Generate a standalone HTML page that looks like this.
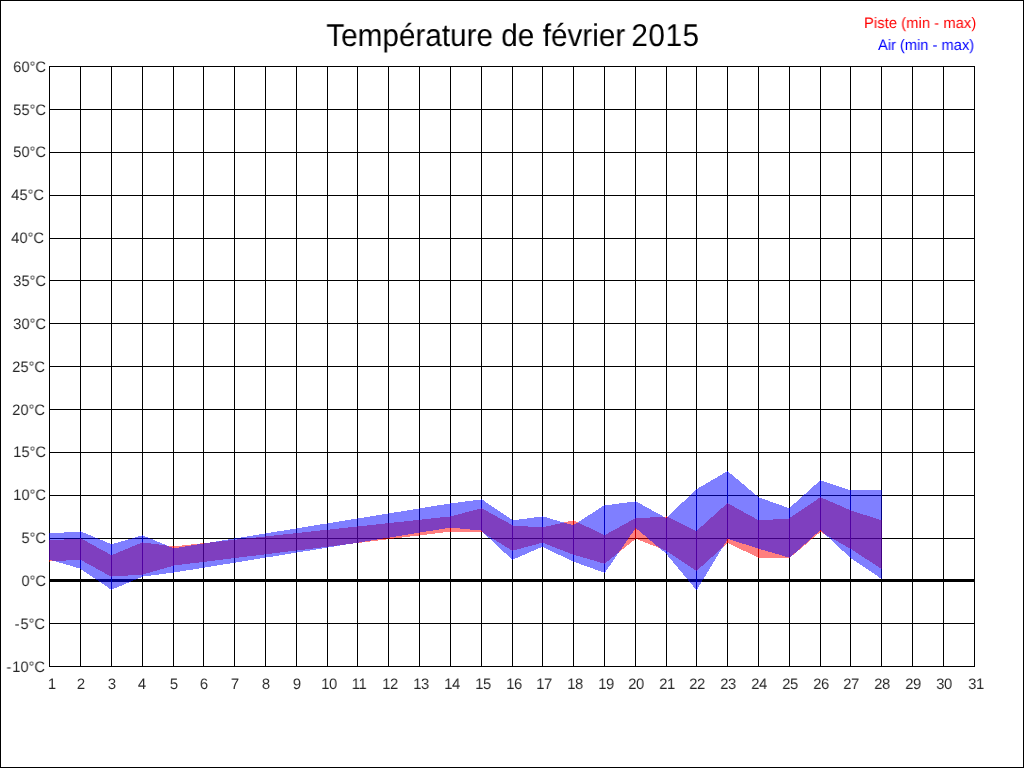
<!DOCTYPE html>
<html lang="fr"><head><meta charset="utf-8"><title>Température de février 2015</title>
<style>
html,body{margin:0;padding:0;background:#fff;}
body{width:1024px;height:768px;position:relative;overflow:hidden;font-family:"Liberation Sans",sans-serif;color:#000;}
#frame{position:absolute;left:0;top:0;width:1022px;height:766px;border:1px solid #000;}
.t{position:absolute;white-space:nowrap;line-height:1;text-rendering:geometricPrecision;will-change:transform;}
.yl{color:rgba(0,0,0,0.85);font-size:15.2px;text-align:right;width:60px;transform:scaleX(0.965);transform-origin:100% 0;}
.xl{color:rgba(0,0,0,0.85);font-size:15.2px;text-align:center;width:40px;transform:scaleX(0.965);transform-origin:50% 0;}
#title{font-size:31.5px;left:0;width:1026px;text-align:center;top:19.8px;transform:scaleX(0.943);transform-origin:513px 0;}
.lg{font-size:15.2px;transform:scaleX(0.965);transform-origin:0 0;}
</style></head><body>
<div id="frame"></div>
<svg width="1024" height="768" viewBox="0 0 1024 768" shape-rendering="crispEdges" style="position:absolute;left:0;top:0">
<g fill="#000"><rect x="49" y="66" width="1" height="601"/><rect x="80" y="66" width="1" height="601"/><rect x="111" y="66" width="1" height="601"/><rect x="142" y="66" width="1" height="601"/><rect x="173" y="66" width="1" height="601"/><rect x="203" y="66" width="1" height="601"/><rect x="234" y="66" width="1" height="601"/><rect x="265" y="66" width="1" height="601"/><rect x="296" y="66" width="1" height="601"/><rect x="327" y="66" width="1" height="601"/><rect x="357" y="66" width="1" height="601"/><rect x="388" y="66" width="1" height="601"/><rect x="419" y="66" width="1" height="601"/><rect x="450" y="66" width="1" height="601"/><rect x="481" y="66" width="1" height="601"/><rect x="512" y="66" width="1" height="601"/><rect x="542" y="66" width="1" height="601"/><rect x="573" y="66" width="1" height="601"/><rect x="604" y="66" width="1" height="601"/><rect x="635" y="66" width="1" height="601"/><rect x="666" y="66" width="1" height="601"/><rect x="696" y="66" width="1" height="601"/><rect x="727" y="66" width="1" height="601"/><rect x="758" y="66" width="1" height="601"/><rect x="789" y="66" width="1" height="601"/><rect x="820" y="66" width="1" height="601"/><rect x="850" y="66" width="1" height="601"/><rect x="881" y="66" width="1" height="601"/><rect x="912" y="66" width="1" height="601"/><rect x="943" y="66" width="1" height="601"/><rect x="974" y="66" width="1" height="601"/><rect x="49" y="66" width="926" height="1"/><rect x="49" y="109" width="926" height="1"/><rect x="49" y="152" width="926" height="1"/><rect x="49" y="195" width="926" height="1"/><rect x="49" y="238" width="926" height="1"/><rect x="49" y="280" width="926" height="1"/><rect x="49" y="323" width="926" height="1"/><rect x="49" y="366" width="926" height="1"/><rect x="49" y="409" width="926" height="1"/><rect x="49" y="452" width="926" height="1"/><rect x="49" y="495" width="926" height="1"/><rect x="49" y="538" width="926" height="1"/><rect x="49" y="623" width="926" height="1"/><rect x="49" y="666" width="926" height="1"/><rect x="49" y="579" width="926" height="3"/></g>
<path d="M49.00 540.47 L80.00 538.47 L111.00 555.47 L142.00 542.47 L173.00 546.47 L450.00 516.47 L481.00 508.47 L512.00 525.47 L542.00 527.47 L573.00 520.47 L604.00 535.47 L635.00 518.47 L666.00 516.47 L696.00 531.47 L727.00 503.47 L758.00 520.47 L789.00 518.47 L820.00 497.47 L850.00 510.47 L881.00 520.47 L881.00 568.53 L850.00 548.53 L820.00 531.53 L789.00 557.53 L758.00 557.53 L727.00 542.53 L696.00 570.53 L666.00 550.53 L635.00 538.53 L604.00 563.53 L573.00 554.53 L542.00 542.53 L512.00 550.53 L481.00 531.53 L450.00 531.53 L173.00 565.53 L142.00 574.53 L111.00 576.53 L80.00 559.53 L49.00 561.53Z M50.00 540.47 L81.00 538.47 L112.00 555.47 L143.00 542.47 L174.00 546.47 L451.00 516.47 L482.00 508.47 L513.00 525.47 L543.00 527.47 L574.00 520.47 L605.00 535.47 L636.00 518.47 L667.00 516.47 L697.00 531.47 L728.00 503.47 L759.00 520.47 L790.00 518.47 L821.00 497.47 L851.00 510.47 L882.00 520.47 L882.00 568.53 L851.00 548.53 L821.00 531.53 L790.00 557.53 L759.00 557.53 L728.00 542.53 L697.00 570.53 L667.00 550.53 L636.00 538.53 L605.00 563.53 L574.00 554.53 L543.00 542.53 L513.00 550.53 L482.00 531.53 L451.00 531.53 L174.00 565.53 L143.00 574.53 L112.00 576.53 L81.00 559.53 L50.00 561.53Z M49 540H50V562H49Z M80 538H81V560H80Z M111 555H112V577H111Z M142 542H143V575H142Z M173 546H174V566H173Z M450 516H451V532H450Z M481 508H482V532H481Z M512 525H513V551H512Z M542 527H543V543H542Z M573 520H574V555H573Z M604 535H605V564H604Z M635 518H636V539H635Z M666 516H667V551H666Z M696 531H697V571H696Z M727 503H728V543H727Z M758 520H759V558H758Z M789 518H790V558H789Z M820 497H821V532H820Z M850 510H851V549H850Z M881 520H882V569H881Z" fill="#ff0000" fill-opacity="0.5" fill-rule="nonzero"/>
<path d="M49.00 533.47 L80.00 531.47 L111.00 544.47 L142.00 535.47 L173.00 548.47 L450.00 503.47 L481.00 499.47 L512.00 520.47 L542.00 516.47 L573.00 525.47 L604.00 505.47 L635.00 501.47 L666.00 518.47 L696.00 489.47 L727.00 471.47 L758.00 497.47 L789.00 508.47 L820.00 480.47 L850.00 490.47 L881.00 490.47 L881.00 578.53 L850.00 557.53 L820.00 529.53 L789.00 557.53 L758.00 548.53 L727.00 538.53 L696.00 589.53 L666.00 553.53 L635.00 527.53 L604.00 572.53 L573.00 561.53 L542.00 546.53 L512.00 559.53 L481.00 530.53 L450.00 527.53 L173.00 572.53 L142.00 576.53 L111.00 589.53 L80.00 568.53 L49.00 559.53Z M50.00 533.47 L81.00 531.47 L112.00 544.47 L143.00 535.47 L174.00 548.47 L451.00 503.47 L482.00 499.47 L513.00 520.47 L543.00 516.47 L574.00 525.47 L605.00 505.47 L636.00 501.47 L667.00 518.47 L697.00 489.47 L728.00 471.47 L759.00 497.47 L790.00 508.47 L821.00 480.47 L851.00 490.47 L882.00 490.47 L882.00 578.53 L851.00 557.53 L821.00 529.53 L790.00 557.53 L759.00 548.53 L728.00 538.53 L697.00 589.53 L667.00 553.53 L636.00 527.53 L605.00 572.53 L574.00 561.53 L543.00 546.53 L513.00 559.53 L482.00 530.53 L451.00 527.53 L174.00 572.53 L143.00 576.53 L112.00 589.53 L81.00 568.53 L50.00 559.53Z M49 533H50V560H49Z M80 531H81V569H80Z M111 544H112V590H111Z M142 535H143V577H142Z M173 548H174V573H173Z M450 503H451V528H450Z M481 499H482V531H481Z M512 520H513V560H512Z M542 516H543V547H542Z M573 525H574V562H573Z M604 505H605V573H604Z M635 501H636V528H635Z M666 518H667V554H666Z M696 489H697V590H696Z M727 471H728V539H727Z M758 497H759V549H758Z M789 508H790V558H789Z M820 480H821V530H820Z M850 490H851V558H850Z M881 490H882V579H881Z" fill="#0000ff" fill-opacity="0.5" fill-rule="nonzero"/>
<g fill="#ff0000" fill-opacity="0.5"><rect x="80" y="538" width="1" height="22"/><rect x="111" y="555" width="1" height="22"/><rect x="142" y="542" width="1" height="33"/><rect x="173" y="546" width="1" height="20"/><rect x="450" y="516" width="1" height="16"/><rect x="481" y="508" width="1" height="24"/><rect x="512" y="525" width="1" height="26"/><rect x="542" y="527" width="1" height="16"/><rect x="573" y="520" width="1" height="35"/><rect x="604" y="535" width="1" height="29"/><rect x="635" y="518" width="1" height="21"/><rect x="666" y="516" width="1" height="35"/><rect x="696" y="531" width="1" height="40"/><rect x="727" y="503" width="1" height="40"/><rect x="758" y="520" width="1" height="38"/><rect x="789" y="518" width="1" height="40"/><rect x="820" y="497" width="1" height="35"/><rect x="850" y="510" width="1" height="39"/></g>
<g fill="#0000ff" fill-opacity="0.5"><rect x="80" y="531" width="1" height="38"/><rect x="111" y="544" width="1" height="46"/><rect x="142" y="535" width="1" height="42"/><rect x="173" y="548" width="1" height="25"/><rect x="450" y="503" width="1" height="25"/><rect x="481" y="499" width="1" height="32"/><rect x="512" y="520" width="1" height="40"/><rect x="542" y="516" width="1" height="31"/><rect x="573" y="525" width="1" height="37"/><rect x="604" y="505" width="1" height="68"/><rect x="635" y="501" width="1" height="27"/><rect x="666" y="518" width="1" height="36"/><rect x="696" y="489" width="1" height="101"/><rect x="727" y="471" width="1" height="68"/><rect x="758" y="497" width="1" height="52"/><rect x="789" y="508" width="1" height="50"/><rect x="820" y="480" width="1" height="50"/><rect x="850" y="490" width="1" height="68"/></g>
</svg>
<div class="t" id="title">Température de février <span style="letter-spacing:0.6px;margin-left:-2.2px">2015</span></div>
<div class="t lg" style="color:#ff0000;left:863.9px;top:15.6px;letter-spacing:0.1px;">Piste (min - max)</div>
<div class="t lg" style="color:#0000ff;left:877.8px;top:37.6px;">Air (min - max)</div>
<div class="t yl" style="left:-14.2px;top:59.6px;">60°C</div>
<div class="t yl" style="left:-14.2px;top:102.6px;">55°C</div>
<div class="t yl" style="left:-14.2px;top:144.6px;">50°C</div>
<div class="t yl" style="left:-15.7px;top:187.6px;">45°C</div>
<div class="t yl" style="left:-15.7px;top:230.6px;">40°C</div>
<div class="t yl" style="left:-14.2px;top:273.6px;">35°C</div>
<div class="t yl" style="left:-14.2px;top:316.6px;">30°C</div>
<div class="t yl" style="left:-15.5px;top:359.6px;">25°C</div>
<div class="t yl" style="left:-15.5px;top:402.6px;">20°C</div>
<div class="t yl" style="left:-13.6px;top:444.6px;">15°C</div>
<div class="t yl" style="left:-13.6px;top:487.6px;">10°C</div>
<div class="t yl" style="left:-13.9px;top:530.6px;">5°C</div>
<div class="t yl" style="left:-13.9px;top:573.6px;">0°C</div>
<div class="t yl" style="left:-15.3px;top:616.6px;"><span style="margin-right:1px">-</span>5°C</div>
<div class="t yl" style="left:-15.3px;top:659.6px;"><span style="margin-right:1px">-</span>10°C</div>
<div class="t xl" style="left:31.8px;top:676.6px;">1</div>
<div class="t xl" style="left:61.3px;top:676.6px;">2</div>
<div class="t xl" style="left:92.3px;top:676.6px;">3</div>
<div class="t xl" style="left:122.0px;top:676.6px;">4</div>
<div class="t xl" style="left:154.3px;top:676.6px;">5</div>
<div class="t xl" style="left:184.3px;top:676.6px;">6</div>
<div class="t xl" style="left:215.3px;top:676.6px;">7</div>
<div class="t xl" style="left:246.3px;top:676.6px;">8</div>
<div class="t xl" style="left:277.3px;top:676.6px;">9</div>
<div class="t xl" style="left:308.6px;top:676.6px;letter-spacing:-0.5px;">10</div>
<div class="t xl" style="left:338.6px;top:676.6px;letter-spacing:-0.5px;">11</div>
<div class="t xl" style="left:369.6px;top:676.6px;letter-spacing:-0.5px;">12</div>
<div class="t xl" style="left:400.6px;top:676.6px;letter-spacing:-0.5px;">13</div>
<div class="t xl" style="left:431.6px;top:676.6px;letter-spacing:-0.5px;">14</div>
<div class="t xl" style="left:462.6px;top:676.6px;letter-spacing:-0.5px;">15</div>
<div class="t xl" style="left:493.6px;top:676.6px;letter-spacing:-0.5px;">16</div>
<div class="t xl" style="left:523.5px;top:676.6px;letter-spacing:-0.5px;">17</div>
<div class="t xl" style="left:554.5px;top:676.6px;letter-spacing:-0.5px;">18</div>
<div class="t xl" style="left:585.5px;top:676.6px;letter-spacing:-0.5px;">19</div>
<div class="t xl" style="left:615.5px;top:676.6px;letter-spacing:-0.5px;">20</div>
<div class="t xl" style="left:647.0px;top:676.6px;letter-spacing:-0.5px;">21</div>
<div class="t xl" style="left:677.0px;top:676.6px;letter-spacing:-0.5px;">22</div>
<div class="t xl" style="left:708.0px;top:676.6px;letter-spacing:-0.5px;">23</div>
<div class="t xl" style="left:739.0px;top:676.6px;letter-spacing:-0.5px;">24</div>
<div class="t xl" style="left:769.5px;top:676.6px;letter-spacing:-0.5px;">25</div>
<div class="t xl" style="left:800.5px;top:676.6px;letter-spacing:-0.5px;">26</div>
<div class="t xl" style="left:831.0px;top:676.6px;letter-spacing:-0.5px;">27</div>
<div class="t xl" style="left:862.0px;top:676.6px;letter-spacing:-0.5px;">28</div>
<div class="t xl" style="left:893.0px;top:676.6px;letter-spacing:-0.5px;">29</div>
<div class="t xl" style="left:923.8px;top:676.6px;letter-spacing:-0.5px;">30</div>
<div class="t xl" style="left:955.6px;top:676.6px;letter-spacing:-0.5px;">31</div>
</body></html>
